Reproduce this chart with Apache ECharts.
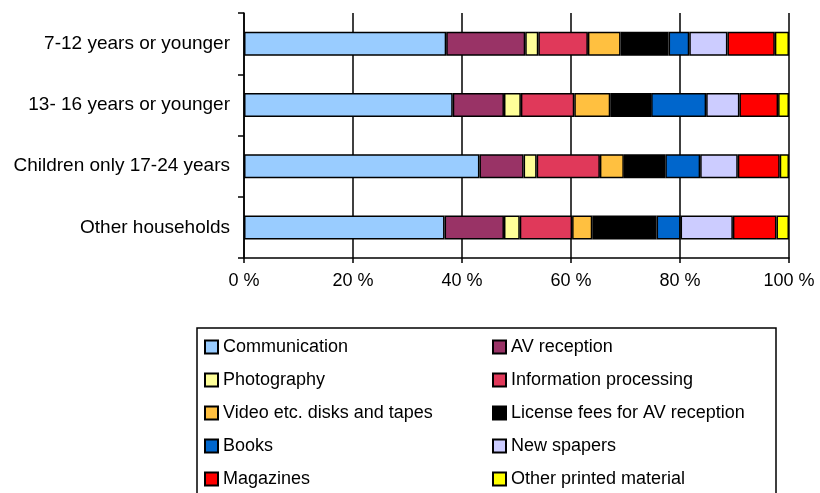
<!DOCTYPE html>
<html>
<head>
<meta charset="utf-8">
<script src="https://cdn.jsdelivr.net/npm/echarts@6/dist/echarts.min.js"></script>
<style>
  html, body { margin: 0; padding: 0; background: #fff; }
  #chart { width: 820px; height: 493px; }
</style>
</head>
<body>
<div id="chart"></div>
<script>
// categories, top to bottom
const categories = ['7-12 years or younger', '13- 16 years or younger', 'Children only 17-24 years', 'Other households'];

// shares (%) per category, same order as categories
const communication = [37.1, 38.3, 43.2, 36.8];
const avReception = [14.5, 9.4, 8.1, 10.9];
const photography = [2.4, 3.1, 2.4, 2.9];
const infoProcessing = [9.1, 9.8, 11.6, 9.6];
const videoDisks = [6.0, 6.6, 4.4, 3.7];
const licenseFees = [8.8, 7.5, 7.6, 11.8];
const books = [3.8, 10.1, 6.4, 4.4];
const newspapers = [7.0, 6.1, 6.9, 9.6];
const magazines = [8.7, 7.1, 7.7, 8.0];
const otherPrinted = [2.6, 2.0, 1.7, 2.3];

const xTicks = [0, 20, 40, 60, 80, 100];

const seriesDefs = [
  { name: 'Communication', data: communication, color: '#99CCFF' },
  { name: 'AV reception', data: avReception, color: '#993366' },
  { name: 'Photography', data: photography, color: '#FFFF99' },
  { name: 'Information processing', data: infoProcessing, color: '#E0395A' },
  { name: 'Video etc. disks and tapes', data: videoDisks, color: '#FFC040' },
  { name: 'License fees for AV reception', data: licenseFees, color: '#000000' },
  { name: 'Books', data: books, color: '#0066CC' },
  { name: 'New spapers', data: newspapers, color: '#CCCCFF' },
  { name: 'Magazines', data: magazines, color: '#FF0000' },
  { name: 'Other printed material', data: otherPrinted, color: '#FFFF00' }
];

const font = 'Liberation Sans, Arial, sans-serif';
const chart = echarts.init(document.getElementById('chart'), null, { renderer: 'canvas' });

const legendText = { fontFamily: font, fontSize: 18, color: '#000', lineHeight: 20 };

const option = {
  animation: false,
  backgroundColor: '#fff',
  grid: { left: 244, right: 31, top: 13, bottom: 235, containLabel: false },
  xAxis: {
    type: 'value',
    min: xTicks[0],
    max: xTicks[xTicks.length - 1],
    interval: 20,
    axisLine: { show: true, lineStyle: { color: '#000', width: 1.5 } },
    axisTick: { show: true, length: 5, lineStyle: { color: '#000', width: 1.5 } },
    axisLabel: { formatter: '{value} %', fontFamily: font, fontSize: 18, color: '#000', margin: 14 },
    splitLine: { show: true, lineStyle: { color: '#000', width: 1.5 } }
  },
  yAxis: {
    type: 'category',
    inverse: true,
    data: categories,
    axisLine: { show: true, lineStyle: { color: '#000', width: 1.5 } },
    axisTick: { show: true, length: 6, lineStyle: { color: '#000', width: 1.5 } },
    axisLabel: { fontFamily: font, fontSize: 19, color: '#000', margin: 14 }
  },
  legend: [
    {
      orient: 'vertical',
      left: 204,
      top: 337,
      itemWidth: 13,
      itemHeight: 13,
      itemGap: 13,
      padding: 0,
      icon: 'rect',
      textStyle: legendText,
      data: seriesDefs.filter((d, i) => i % 2 === 0).map(d => d.name)
    },
    {
      orient: 'vertical',
      left: 492,
      top: 337,
      itemWidth: 13,
      itemHeight: 13,
      itemGap: 13,
      padding: 0,
      icon: 'rect',
      textStyle: legendText,
      data: seriesDefs.filter((d, i) => i % 2 === 1).map(d => d.name)
    }
  ],
  graphic: [
    {
      type: 'rect',
      shape: { x: 197, y: 328, width: 579, height: 180 },
      style: { fill: 'none', stroke: '#000', lineWidth: 1.5 },
      silent: true
    }
  ],
  series: seriesDefs.map(d => ({
    name: d.name,
    type: 'bar',
    stack: 'total',
    barWidth: 24,
    data: d.data,
    itemStyle: { color: d.color, borderColor: '#000', borderWidth: 1.5 }
  }))
};

chart.setOption(option);
</script>
</body>
</html>
